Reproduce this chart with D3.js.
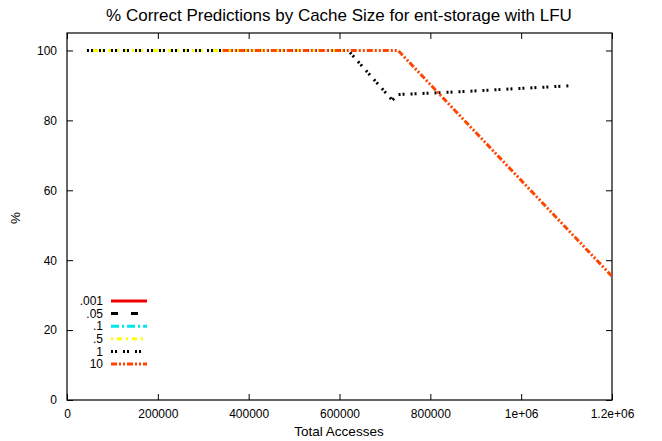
<!DOCTYPE html>
<html>
<head>
<meta charset="utf-8">
<script src="https://cdn.jsdelivr.net/npm/d3@7"></script>
<style>
  body { margin: 0; background: #fff; }
  text { font-family: "Liberation Sans", Arial, sans-serif; fill: #000; }
</style>
</head>
<body>
<svg id="chart" width="662" height="441"></svg>
<script>
// data
var seriesNames = [".001", ".05", ".1", ".5", "1", "10"];
var seriesColors = ["#ee0000", "#000000", "#00e5ee", "#ffff00", "#000000", "#ff4500"];
var seriesDash = ["none", "7,13", "8,3,2,3", "2,4,5,4", "2,2,2,6", "6,2,2,2,2,2"];

var data001 = [[44000, 100], [48000, 100]];
var data05 = [[44000, 100], [48000, 100]];
var data1 = [[44000, 100], [48000, 100]];
var data5 = [[44000, 100], [619000, 100]];
var dataOne = [[44000, 100], [619000, 100], [716000, 85.8], [730000, 87.4], [850000, 88.1], [950000, 88.8], [1107000, 89.9]];
var dataTen = [[343000, 100], [729000, 100], [1200000, 35.4]];
var allSeries = [data001, data05, data1, data5, dataOne, dataTen];

var xTicks = [0, 200000, 400000, 600000, 800000, 1000000, 1200000];
var xTickLabels = ["0", "200000", "400000", "600000", "800000", "1e+06", "1.2e+06"];
var yTicks = [0, 20, 40, 60, 80, 100];

var svg = d3.select("#chart");

var plotLeft = 67, plotRight = 612, plotTop = 33, plotBottom = 400;

var x = d3.scaleLinear().domain([0, 1200000]).range([plotLeft, plotRight]);
var y = d3.scaleLinear().domain([0, 105]).range([plotBottom, plotTop]);

// title
svg.append("text")
  .attr("x", 339)
  .attr("y", 21)
  .attr("text-anchor", "middle")
  .attr("font-size", 17)
  .text("% Correct Predictions by Cache Size for ent-storage with LFU");

// axes with inward ticks (mirrored on top/right)
var fmt = function(d, i) { return xTickLabels[i]; };
svg.append("g")
  .attr("transform", "translate(0," + plotBottom + ")")
  .call(d3.axisBottom(x).tickValues(xTicks).tickFormat(fmt).tickSizeInner(-6).tickSizeOuter(0).tickPadding(9));
svg.append("g")
  .attr("transform", "translate(0," + plotTop + ")")
  .call(d3.axisTop(x).tickValues(xTicks).tickFormat("").tickSizeInner(-6).tickSizeOuter(0));
svg.append("g")
  .attr("transform", "translate(" + plotLeft + ",0)")
  .call(d3.axisLeft(y).tickValues(yTicks).tickSizeInner(-6).tickSizeOuter(0).tickPadding(10));
svg.append("g")
  .attr("transform", "translate(" + plotRight + ",0)")
  .call(d3.axisRight(y).tickValues(yTicks).tickFormat("").tickSizeInner(-6).tickSizeOuter(0));

svg.selectAll(".tick text").attr("font-size", 12).attr("font-family", "Liberation Sans, Arial, sans-serif");
svg.selectAll(".domain").remove();
svg.selectAll(".tick line").attr("stroke", "#000");

// frame
svg.append("rect")
  .attr("x", plotLeft)
  .attr("y", plotTop)
  .attr("width", plotRight - plotLeft)
  .attr("height", plotBottom - plotTop)
  .attr("fill", "none")
  .attr("stroke", "#000")
  .attr("stroke-width", 1.2);

// axis labels
svg.append("text")
  .attr("x", 339)
  .attr("y", 436)
  .attr("text-anchor", "middle")
  .attr("font-size", 13.5)
  .text("Total Accesses");
svg.append("text")
  .attr("transform", "translate(20,218) rotate(-90)")
  .attr("text-anchor", "middle")
  .attr("font-size", 13.5)
  .text("%");

// lines
var line = d3.line().x(function(d) { return x(d[0]); }).y(function(d) { return y(d[1]); });
svg.append("defs").append("clipPath").attr("id", "clip")
  .append("rect").attr("x", plotLeft).attr("y", plotTop).attr("width", plotRight - plotLeft).attr("height", plotBottom - plotTop);

var plot = svg.append("g").attr("clip-path", "url(#clip)");
allSeries.forEach(function(s, i) {
  plot.append("path")
    .attr("d", line(s))
    .attr("fill", "none")
    .attr("stroke", seriesColors[i])
    .attr("stroke-width", 3)
    .attr("stroke-dasharray", seriesDash[i]);
});

// legend
seriesNames.forEach(function(name, i) {
  var ly = 301 + i * 12.6;
  svg.append("text")
    .attr("x", 103)
    .attr("y", ly)
    .attr("dy", "0.35em")
    .attr("text-anchor", "end")
    .attr("font-size", 12)
    .text(name);
  svg.append("line")
    .attr("x1", 111)
    .attr("y1", ly)
    .attr("x2", 147)
    .attr("y2", ly)
    .attr("stroke", seriesColors[i])
    .attr("stroke-width", 3)
    .attr("stroke-dasharray", seriesDash[i]);
});
</script>
</body>
</html>
